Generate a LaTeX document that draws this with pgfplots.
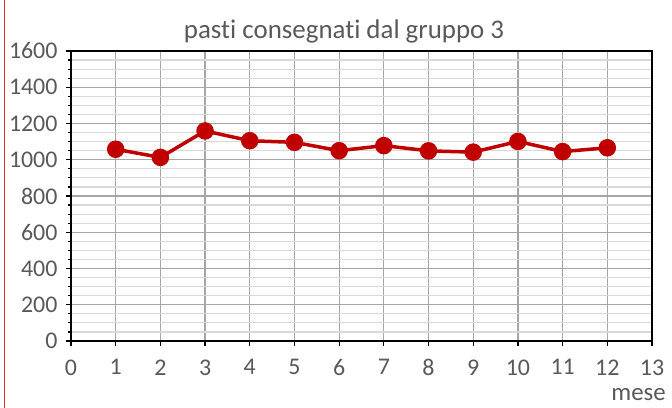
\documentclass[border=0pt]{standalone}
\usepackage{pgfplots}
\pgfplotsset{compat=1.18}
\usepackage{fontspec}
\setmainfont{Carlito}[Ligatures=NoCommon]
\definecolor{dred}{HTML}{C00000}
\definecolor{edgered}{HTML}{E0302F}
\definecolor{txt}{HTML}{595959}
\definecolor{majgrid}{HTML}{A6A6A6}
\definecolor{mingrid}{HTML}{D9D9D9}
\begin{document}
\begin{tikzpicture}
\path[use as bounding box, fill=white] (0bp,0bp) rectangle (672bp,408bp);
\draw[edgered, line width=1.4bp] (4.5bp,0bp) -- (4.5bp,408bp);
\begin{axis}[
  at={(71bp,67bp)}, anchor=south west,
  scale only axis, width=581bp, height=290bp,
  xmin=0, xmax=13, ymin=0, ymax=1600,
  xtick={0,...,13}, ytick={0,200,...,1600},
  minor ytick={50,100,150,250,300,350,450,500,550,650,700,750,850,900,950,1050,1100,1150,1250,1300,1350,1450,1500,1550},
  grid=both,
  major grid style={majgrid, line width=1.2bp},
  minor grid style={mingrid, line width=1.2bp},
  axis line style={black, line width=1.2bp},
  tick style={black, line width=1.2bp},
  major tick length=5bp, minor tick length=3bp,
  tick align=outside,
  xtick pos=bottom, ytick pos=left,
  ticklabel style={font=\fontsize{24}{26}\selectfont, text=txt},
  /pgf/number format/assume math mode=true,
  /pgf/number format/1000 sep={},
  xticklabel style={yshift=-10bp},
  yticklabel style={xshift=-5bp},
  title={pasti consegnati dal gruppo 3},
  title style={font=\fontsize{27}{29}\selectfont, text=txt, at={(0.47,1)}, yshift=-2bp},
]
\addplot[dred, line width=3.5bp, mark=*, mark size=7bp, mark options={fill=dred, draw=dred}]
coordinates {(1,1058) (2,1013) (3,1159) (4,1105) (5,1096) (6,1050) (7,1078) (8,1049) (9,1042) (10,1101) (11,1045) (12,1066)};
\end{axis}
\node[anchor=base east, text=txt, font=\fontsize{25}{27}\selectfont, inner sep=0pt] at (666bp,8bp) {mese};
\end{tikzpicture}
\end{document}
